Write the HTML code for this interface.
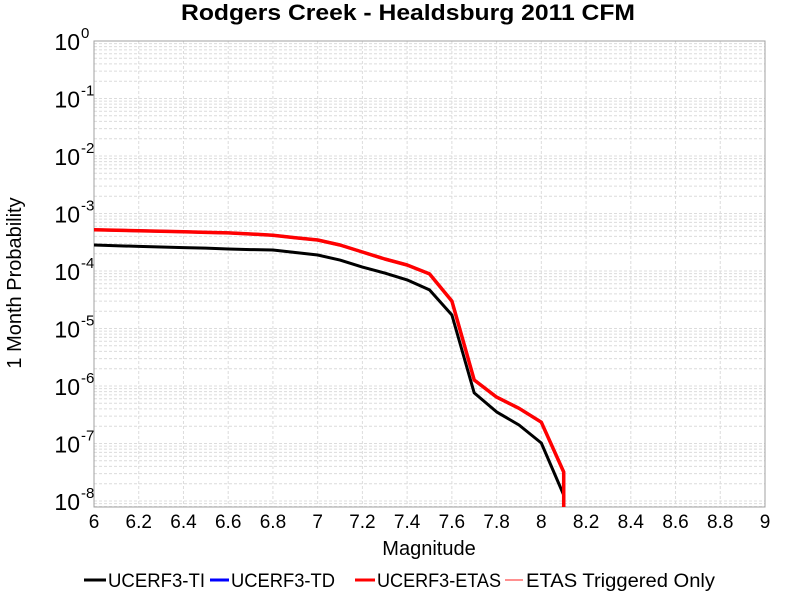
<!DOCTYPE html>
<html><head><meta charset="utf-8"><style>
html,body{margin:0;padding:0;background:#fff;}
svg{display:block;font-family:"Liberation Sans",Arial,sans-serif;}
</style></head><body>
<svg id="chart" width="800" height="600" xmlns="http://www.w3.org/2000/svg">
<text x="408" y="20" text-anchor="middle" font-size="22" font-weight="bold" textLength="454" lengthAdjust="spacingAndGlyphs">Rodgers Creek - Healdsburg 2011 CFM</text>
<g id="grid"></g>
<g id="axes"></g>
<g id="series"></g>
<text x="429" y="555" text-anchor="middle" font-size="20">Magnitude</text>
<text transform="translate(21,283) rotate(-90)" text-anchor="middle" font-size="20">1 Month Probability</text>
<g font-size="19">
 <g><line x1="84" y1="580" x2="106" y2="580" stroke="#000" stroke-width="3"/><text x="108" y="587" textLength="97" lengthAdjust="spacingAndGlyphs">UCERF3-TI</text></g>
 <g><line x1="210" y1="580" x2="229" y2="580" stroke="#0000ff" stroke-width="3"/><text x="231" y="587" textLength="104" lengthAdjust="spacingAndGlyphs">UCERF3-TD</text></g>
 <g><line x1="355" y1="580" x2="375" y2="580" stroke="#ff0000" stroke-width="3"/><text x="377" y="587" textLength="124" lengthAdjust="spacingAndGlyphs">UCERF3-ETAS</text></g>
 <g><line x1="505" y1="580" x2="523" y2="580" stroke="#ff9090" stroke-width="2"/><text x="526" y="587" textLength="189" lengthAdjust="spacingAndGlyphs">ETAS Triggered Only</text></g>
</g>
</svg>
<script>
const magnitudes=[6.0,6.1,6.2,6.3,6.4,6.5,6.6,6.7,6.8,6.9,7.0,7.1,7.2,7.3,7.4,7.5,7.6,7.7,7.8,7.9,8.0,8.1,8.1];
const tiValues=[2.83e-4,2.75e-4,2.68e-4,2.61e-4,2.55e-4,2.5e-4,2.41e-4,2.36e-4,2.32e-4,2.1e-4,1.9e-4,1.55e-4,1.17e-4,9.2e-5,7.0e-5,4.7e-5,1.72e-5,7.6e-7,3.55e-7,2.1e-7,1.02e-7,1.27e-8,1e-9];
const tdValues=[5.2e-4,5.1e-4,5.0e-4,4.9e-4,4.8e-4,4.7e-4,4.6e-4,4.4e-4,4.2e-4,3.8e-4,3.46e-4,2.83e-4,2.14e-4,1.62e-4,1.27e-4,8.9e-5,3.0e-5,1.27e-6,6.4e-7,4.1e-7,2.35e-7,3.2e-8,1e-9];
const etasValues=[5.2e-4,5.1e-4,5.0e-4,4.9e-4,4.8e-4,4.7e-4,4.6e-4,4.4e-4,4.2e-4,3.8e-4,3.46e-4,2.83e-4,2.14e-4,1.62e-4,1.27e-4,8.9e-5,3.0e-5,1.27e-6,6.4e-7,4.1e-7,2.35e-7,3.2e-8,1e-9];
const xTickLabels=["6","6.2","6.4","6.6","6.8","7","7.2","7.4","7.6","7.8","8","8.2","8.4","8.6","8.8","9"];
const yTickExponents=[0,-1,-2,-3,-4,-5,-6,-7,-8];

const NS="http://www.w3.org/2000/svg";
const L=94,R=765,T=41,B=507,X0=6,X1=9,DEC=57.5;
const xs=m=>L+(m-X0)/(X1-X0)*(R-L);
const ys=v=>T-Math.log10(v)*DEC;
function mk(tag,attrs,parent){const e=document.createElementNS(NS,tag);for(const k in attrs)e.setAttribute(k,attrs[k]);parent.appendChild(e);return e;}
const grid=document.getElementById('grid'),axes=document.getElementById('axes'),series=document.getElementById('series');
const defs=mk('defs',{},document.getElementById('chart'));
const cp=mk('clipPath',{id:'clip'},defs);mk('rect',{x:L,y:T,width:R-L,height:B-T},cp);
for(let d=0;d>=-9;d--){for(let k=1;k<10;k++){const v=k*Math.pow(10,d);const y=ys(v);if(y<T||y>B)continue;
 const g=mk('line',{x1:L,x2:R,y1:y,y2:y,stroke:'#dcdcdc','stroke-width':1,'stroke-dasharray':'3,2'},grid);
 
 }}
xTickLabels.forEach(t=>{const x=xs(parseFloat(t));
 const g=mk('line',{x1:x,x2:x,y1:T,y2:B,stroke:'#dcdcdc','stroke-width':1,'stroke-dasharray':'3,2'},grid);
 
 
 const tx=mk('text',{x:x,y:528,'text-anchor':'middle','font-size':19},axes);tx.textContent=t;
 
 });
yTickExponents.forEach(e=>{const y=ys(Math.pow(10,e));
 const tx=mk('text',{x:80,y:y+9,'text-anchor':'end','font-size':23},axes);tx.textContent='10';
 
 
 const sp=mk('text',{x:81,y:y-3,'font-size':15},axes);sp.textContent=String(e);
 
 });
const frame=mk('rect',{x:L,y:T,width:R-L,height:B-T,fill:'none',stroke:'#a0a0a0','stroke-width':1},axes);


function line(vals,color,w,name){const d=vals.map((v,i)=>(i?'L':'M')+xs(magnitudes[i]).toFixed(1)+','+ys(v).toFixed(1)).join(' ');
 const p=mk('path',{d:d,fill:'none',stroke:color,'stroke-width':w,'stroke-linejoin':'round','clip-path':'url(#clip)'},series);
 
 }
line(tiValues,'#000',3,'series-ucerf3-ti');
line(tdValues,'#0000ff',3,'series-ucerf3-td');
line(etasValues,'#ff0000',3.5,'series-ucerf3-etas');
</script>
</body></html>
